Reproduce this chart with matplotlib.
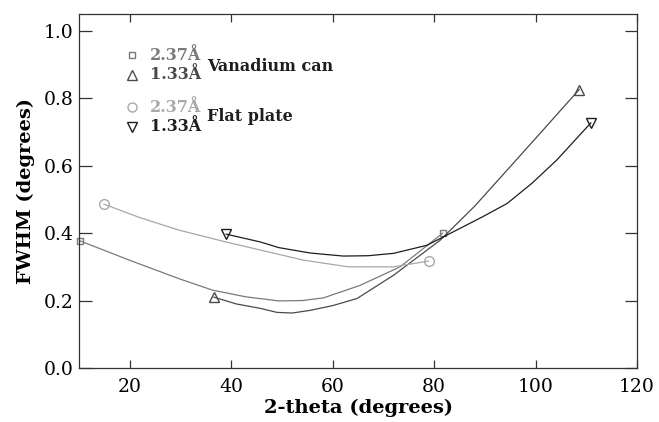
import numpy as np
import matplotlib
matplotlib.use("Agg")
import matplotlib.pyplot as plt

# curves (2-theta in degrees, FWHM in degrees)
van237_x = [10.2, 19.9, 29.7, 36.3, 42.9, 49.4, 54.0, 58.2, 65.4, 73.3, 81.7]
van237_y = [0.377, 0.320, 0.265, 0.231, 0.211, 0.199, 0.200, 0.208, 0.245, 0.300, 0.400]

van133_x = [36.6, 41.0, 45.7, 49.0, 52.0, 55.6, 60.0, 64.8, 72.0, 81.2, 88.0, 94.4, 100.9, 108.6]
van133_y = [0.210, 0.190, 0.177, 0.165, 0.163, 0.171, 0.185, 0.206, 0.275, 0.379, 0.480, 0.587, 0.696, 0.826]

flat237_x = [14.9, 22.0, 29.7, 38.9, 49.4, 54.2, 63.1, 71.9, 78.9]
flat237_y = [0.486, 0.446, 0.409, 0.374, 0.337, 0.320, 0.300, 0.300, 0.317]

flat133_x = [39.0, 45.7, 49.4, 55.6, 62.1, 67.0, 72.0, 78.6, 85.1, 89.5, 94.4, 99.3, 104.2, 110.9]
flat133_y = [0.397, 0.374, 0.357, 0.341, 0.332, 0.333, 0.340, 0.364, 0.414, 0.448, 0.488, 0.548, 0.617, 0.727]

x_ticks = [20, 40, 60, 80, 100, 120]
y_ticks = [0.0, 0.2, 0.4, 0.6, 0.8, 1.0]

plt.rcParams['font.family'] = ['DejaVu Serif']

fig = plt.figure(figsize=(6.59, 4.22), dpi=100)
ax = fig.add_axes([0.1199, 0.128, 0.8467, 0.8388])

c_sq = '#7a7a7a'
c_tri = '#4a4a4a'
c_circ = '#a8a8a8'
c_inv = '#1e1e1e'

ax.plot(van237_x, van237_y, color=c_sq, lw=0.9, marker='s', ms=5, mfc='none',
        mec=c_sq, markevery=[0, -1], clip_on=False)
ax.plot(van133_x, van133_y, color=c_tri, lw=0.9, marker='^', ms=7.5, mfc='none',
        mec=c_tri, markevery=[0, -1])
ax.plot(flat237_x, flat237_y, color=c_circ, lw=0.9, marker='o', ms=7, mfc='none',
        mec=c_circ, markevery=[0, -1])
ax.plot(flat133_x, flat133_y, color=c_inv, lw=0.9, marker='v', ms=7.5, mfc='none',
        mec=c_inv, markevery=[0, -1])

ax.set_xlim(10, 120)
ax.set_ylim(0, 1.05)
ax.set_xticks(x_ticks)
ax.set_yticks(y_ticks)
ax.set_yticklabels(['%.1f' % v for v in y_ticks])
ax.tick_params(axis='both', direction='in', top=True, right=True,
               labelsize=13.5, width=0.9, color='#333333')
ax.tick_params(axis='x', length=6, pad=7)
ax.tick_params(axis='y', length=9, pad=4)
for s in ax.spines.values():
    s.set_linewidth(0.9)
    s.set_color('#333333')

ax.set_xlabel('2-theta (degrees)', fontsize=14, fontweight='bold', labelpad=2)
ax.set_ylabel('FWHM (degrees)', fontsize=14, fontweight='bold', labelpad=6)

# hand-made legend
mk_x = 0.095
tx_x = 0.127
rows = [(0.884, 's', c_sq, '2.37Å', 5),
        (0.828, '^', c_tri, '1.33Å', 7),
        (0.737, 'o', c_circ, '2.37Å', 6.5),
        (0.681, 'v', c_inv, '1.33Å', 7)]
for yy, m, c, lab, ms in rows:
    ax.plot([mk_x], [yy], marker=m, ms=ms, mfc='none', mec=c, ls='none',
            transform=ax.transAxes, clip_on=False)
    ax.text(tx_x, yy, lab, transform=ax.transAxes, color=c, fontsize=11.5,
            fontweight='bold', va='center', ha='left')
ax.text(0.229, 0.853, 'Vanadium can', transform=ax.transAxes, fontsize=11.5,
        fontweight='bold', va='center', ha='left', color='#1e1e1e')
ax.text(0.229, 0.71, 'Flat plate', transform=ax.transAxes, fontsize=11.5,
        fontweight='bold', va='center', ha='left', color='#1e1e1e')

fig.savefig('out.png', dpi=100)
